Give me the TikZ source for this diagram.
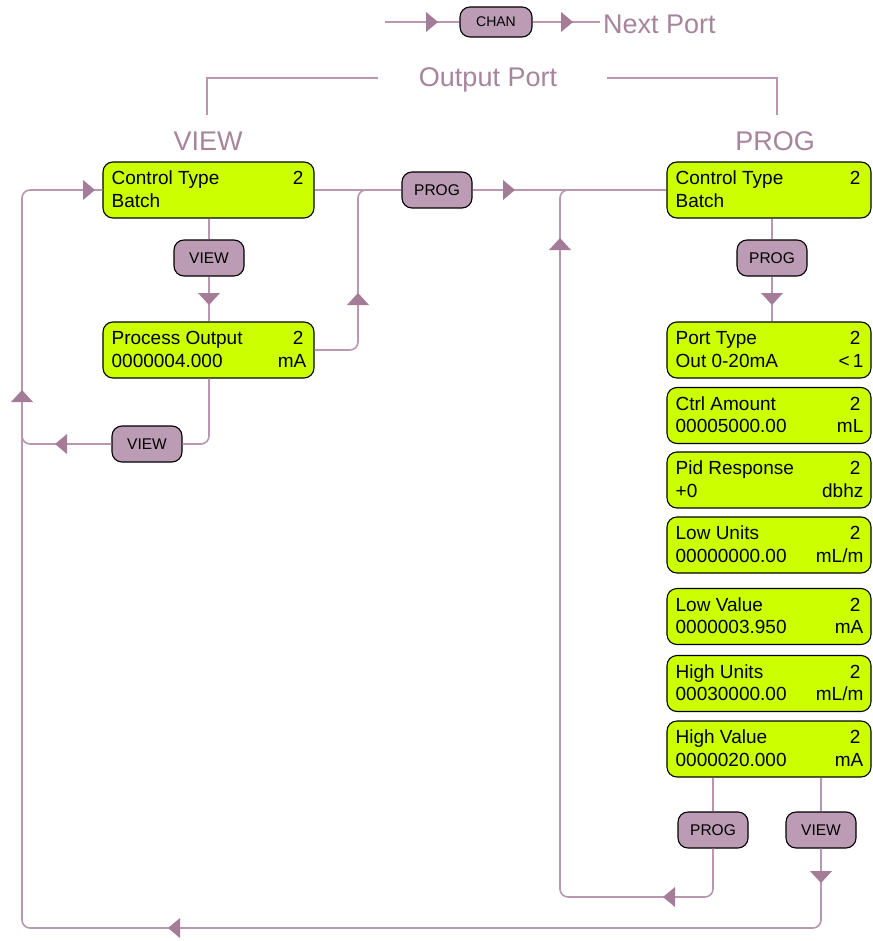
\documentclass[tikz,border=0pt]{standalone}
\usepackage{fontspec}
\setmainfont{Liberation Sans}
\definecolor{lcd}{HTML}{CCFF00}
\definecolor{btn}{HTML}{BC9CB4}
\definecolor{wire}{HTML}{B898B0}
\definecolor{tipc}{HTML}{A47C98}
\definecolor{ttl}{HTML}{A8849C}
\tikzset{
  lcdbox/.style={draw=black, line width=1.1pt, fill=lcd, rounded corners=10pt,
    minimum width=#1, minimum height=56pt, inner sep=0pt},
  lcdtxt/.style={inner sep=0pt, font=\fontsize{19}{22}\selectfont},
  btnbox/.style={draw=black, line width=1.1pt, fill=btn, rounded corners=10pt,
    minimum width=70pt, minimum height=36pt, inner sep=0pt,
    font=\fontsize{15.5}{16}\selectfont},
  wireline/.style={draw=wire, line width=1.6pt, rounded corners=8pt},
  title/.style={text=ttl, inner sep=0pt, font=\fontsize{27}{30}\selectfont},
}
\newcommand\lcd[8]{%
  \node[lcdbox=#4] (#1) at (#2,#3) {};
  \node[lcdtxt, anchor=base west] (#1-a) at ([xshift=9pt,yshift=-23.5pt]#1.north west) {#5};
  \node[lcdtxt, anchor=base east] (#1-b) at ([xshift=-11pt,yshift=-23.5pt]#1.north east) {#6};
  \node[lcdtxt, anchor=base west] (#1-c) at ([xshift=9pt,yshift=-46pt]#1.north west) {#7};
  \node[lcdtxt, anchor=base east] (#1-d) at ([xshift=-8pt,yshift=-46pt]#1.north east) {#8};
}
\newcommand\tipR[2]{\fill[tipc] (#1,#2) -- ++(-12,-10) -- ++(0,20) -- cycle;}
\newcommand\tipL[2]{\fill[tipc] (#1,#2) -- ++(12,-10) -- ++(0,20) -- cycle;}
\newcommand\tipU[2]{\fill[tipc] (#1,#2) -- ++(-11,12) -- ++(22,0) -- cycle;}
\newcommand\tipD[2]{\fill[tipc] (#1,#2) -- ++(-11,-12) -- ++(22,0) -- cycle;}
\begin{document}
\begin{tikzpicture}[x=1pt,y=-1pt]
\useasboundingbox[fill=white] (0,0) rectangle (872,941);

% ---- top: CHAN -> Next Port
\coordinate (cin) at (385,22);
\node[btnbox, minimum width=72pt, minimum height=30pt, font=\fontsize{14}{15}\selectfont] (chan) at (496,22) {CHAN};
\node[title, anchor=west, inner sep=0pt] (nextp) at (603,24) {Next Port};
\draw[wireline] (cin) -- (chan.west);
\draw[wireline] (chan.east) -- (600,22);
\tipR{438}{22}
\tipR{573}{22}

% ---- Output Port bracket
\node[title] (outp) at (488,80) {Output Port};
\coordinate (ol1) at (207,115);
\coordinate (ol2) at (207,78);
\coordinate (ol3) at (378,78);
\coordinate (or1) at (607,78);
\coordinate (or2) at (777,78);
\coordinate (or3) at (777,115);
\draw[draw=wire, line width=1.6pt] (ol1) -- (ol2) -- (ol3);
\draw[draw=wire, line width=1.6pt] (or1) -- (or2) -- (or3);

\node[title] (tview) at (208,141) {VIEW};
\node[title] (tprog) at (775,141) {PROG};

% ---- LCD boxes
\lcd{vct}{208.5}{190}{211}{Control Type}{2}{Batch}{}
\lcd{po}{208.5}{350}{211}{Process Output}{2}{0000004.000}{mA}

\lcd{pct}{769}{190}{204}{Control Type}{2}{Batch}{}
\lcd{pt}{769}{350}{204}{Port Type}{2}{Out 0-20mA}{<\,1}
\lcd{ca}{769}{415.5}{204}{Ctrl Amount}{2}{00005000.00}{mL}
\lcd{pr}{769}{480}{204}{Pid Response}{2}{+0}{dbhz}
\lcd{lu}{769}{545}{204}{Low Units}{2}{00000000.00}{mL/m}
\lcd{lv}{769}{616.5}{204}{Low Value}{2}{0000003.950}{mA}
\lcd{hu}{769}{683.5}{204}{High Units}{2}{00030000.00}{mL/m}
\lcd{hv}{769}{749}{204}{High Value}{2}{0000020.000}{mA}

% ---- buttons
\node[btnbox] (vb1) at (209,258) {VIEW};
\node[btnbox] (pb1) at (437,190) {PROG};
\node[btnbox] (pb)  at (772,258) {PROG};
\node[btnbox] (vb2) at (147,444) {VIEW};
\node[btnbox] (pb2) at (713,830) {PROG};
\node[btnbox] (vb3) at (821,830) {VIEW};

% ---- connectors
\draw[wireline] (vct.east) -- (pb1.west);
\draw[wireline] (pb1.east) -- (pct.west);
\draw[wireline] (vb1.north |- vct.south) -- (vb1.north);
\draw[wireline] (vb1.south) -- (vb1.south |- po.north);
\draw[wireline] (po.east) -- (358,350) -- (358,190) -- (372,190);
\draw[wireline] (vb1.south |- po.south) -- (209,444) -- (vb2.east);
\draw[wireline] (vb2.west) -- (22,444) -- (22,430);
\draw[wireline] (vb3.south) -- (821,928) -- (22,928) -- (22,190) -- (vct.west);
\draw[wireline] (pb.north |- pct.south) -- (pb.north);
\draw[wireline] (pb.south) -- (pb.south |- pt.north);
\draw[wireline] (pb2.north |- hv.south) -- (pb2.north);
\draw[wireline] (vb3.north |- hv.south) -- (vb3.north);
\draw[wireline] (pb2.south) -- (713,897) -- (560,897) -- (560,190) -- (574,190);

% ---- arrowheads
\tipR{95}{190}
\tipD{209}{305}
\tipL{55}{444}
\tipU{22}{390}
\tipU{358}{293}
\tipR{515}{190}
\tipU{560}{238}
\tipD{772}{305}
\tipL{663}{897}
\tipD{821}{883}
\tipL{168}{928}
\end{tikzpicture}
\end{document}
